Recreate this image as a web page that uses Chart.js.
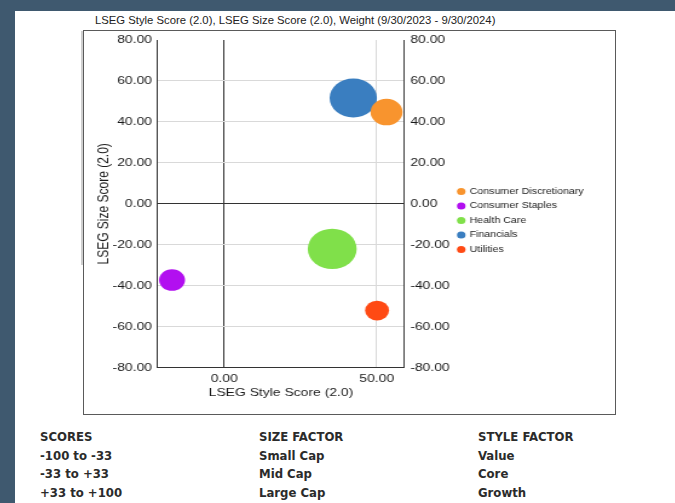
<!DOCTYPE html>
<html lang="en">
<head>
<meta charset="UTF-8">
<title>LSEG Style / Size Score</title>
<style>
  body {
    margin: 0;
    width: 675px;
    height: 503px;
    background: #3f596f;
    position: relative;
    overflow: hidden;
    font-family: Arial, "Liberation Sans", sans-serif;
  }
  #panel { position: absolute; left: 15px; top: 11px; right: 0; bottom: 0; background: #fff; }
  #title { position: absolute; left: 95px; top: 13px; font-size: 11.3px; line-height: 14px; color: #222; white-space: nowrap; }
  #frame { position: absolute; left: 83px; top: 30px; width: 531px; height: 383px; border: 1px solid #5a5a5a; }
  #strip { position: absolute; left: 81px; top: 31px; width: 2px; height: 234px; background: #cfcfcf; }
  #wrap { position: absolute; left: 84px; top: 31px; transform: scaleX(1.21); transform-origin: 0 0; }
  .col {
    position: absolute; top: 428px;
    font-family: "DejaVu Sans Condensed", "DejaVu Sans", sans-serif;
    font-stretch: condensed;
    font-weight: bold; font-size: 13px; line-height: 18.6px; color: #2b2b2b;
  }
</style>
</head>
<body>
<div id="panel"></div>
<div id="title">LSEG Style Score (2.0), LSEG Size Score (2.0), Weight (9/30/2023 - 9/30/2024)</div>
<div id="strip"></div>
<div id="frame"></div>
<div id="wrap"><canvas id="bubbleChart" width="439" height="383"></canvas></div>

<div class="col" style="left:40px">SCORES<br>-100 to -33<br>-33 to +33<br>+33 to +100</div>
<div class="col" style="left:259px">SIZE FACTOR<br>Small Cap<br>Mid Cap<br>Large Cap</div>
<div class="col" style="left:478px">STYLE FACTOR<br>Value<br>Core<br>Growth</div>

<script src="https://cdn.jsdelivr.net/npm/chart.js"></script>
<script>
  const sectors = ['Consumer Discretionary', 'Consumer Staples', 'Health Care', 'Financials', 'Utilities'];
  const styleScores = [53.2, -17.1, 35.4, 42.3, 50.1];
  const sizeScores = [44.8, -37.2, -22.0, 51.7, -52.1];
  const weights = [13.5, 8.9, 31.5, 29.5, 7.6];
  const xTicks = [0, 50];
  const yTicks = [-80, -60, -40, -20, 0, 20, 40, 60, 80];

  const palette = ['#f8942e', '#b20ff0', '#80e04a', '#3a7ec0', '#ff4a14'];

  // bubble area follows weight
  const bubbleRadius = w => 3.6 * Math.sqrt(w);
  const fmt = v => Number(v).toFixed(2);
  const tickFont = { family: 'Arial, "Liberation Sans", sans-serif', size: 11.5 };

  // keep the plot edges where the layout puts them
  const fitY = w => s => { s.width = w; s.paddingTop = 0; s.paddingBottom = 0; };

  const datasets = sectors.map((name, i) => ({
    label: name,
    data: [{ x: styleScores[i], y: sizeScores[i], r: bubbleRadius(weights[i]) }],
    backgroundColor: palette[i],
    borderWidth: 0
  }));

  const ctx = document.getElementById('bubbleChart').getContext('2d');
  new Chart(ctx, {
    type: 'bubble',
    data: { datasets },
    options: {
      responsive: false,
      animation: false,
      layout: { autoPadding: false, padding: { top: 9, left: 0, right: 16, bottom: 13 } },
      plugins: {
        tooltip: { enabled: false },
        legend: {
          position: 'right',
          maxWidth: 300,
          labels: {
            usePointStyle: true,
            pointStyle: 'circle',
            boxWidth: 5,
            boxHeight: 5,
            padding: 5.7,
            color: '#222',
            font: { family: 'Arial, "Liberation Sans", sans-serif', size: 8.8 }
          }
        }
      },
      scales: {
        x: {
          type: 'linear',
          min: -21.8,
          max: 59,
          afterBuildTicks: s => { s.ticks = xTicks.map(v => ({ value: v })); },
          afterFit: s => { s.height = 33.3; s.paddingLeft = 0; s.paddingRight = 0; },
          grid: {
            drawTicks: false,
            color: c => (c.tick && c.tick.value === 0 ? '#333' : '#d9d9d9')
          },
          border: { color: '#333' },
          ticks: { padding: 4, color: '#1a1a1a', font: tickFont, callback: fmt },
          title: {
            display: true,
            text: 'LSEG Style Score (2.0)',
            color: '#1a1a1a',
            padding: { top: 0, bottom: 3 },
            font: { family: 'Arial, "Liberation Sans", sans-serif', size: 11.5, lineHeight: 0.87 }
          }
        },
        y: {
          type: 'linear',
          position: 'left',
          min: -80,
          max: 80,
          afterBuildTicks: s => { s.ticks = yTicks.map(v => ({ value: v })); },
          afterFit: fitY(60.9),
          grid: {
            drawTicks: false,
            color: c => {
              if (!c.tick) return '#d9d9d9';
              if (c.tick.value === 0) return '#333';
              if (c.tick.value === 80) return 'rgba(0,0,0,0)';
              return '#d9d9d9';
            }
          },
          border: { color: '#333' },
          ticks: { padding: 4.7, color: '#1a1a1a', font: tickFont, callback: fmt },
          title: {
            display: true,
            text: 'LSEG Size Score (2.0)',
            color: '#1a1a1a',
            padding: { top: 9.9, bottom: 0 },
            font: { family: 'Arial, "Liberation Sans", sans-serif', size: 12 }
          }
        },
        y2: {
          type: 'linear',
          position: 'right',
          min: -80,
          max: 80,
          afterBuildTicks: s => { s.ticks = yTicks.map(v => ({ value: v })); },
          afterFit: fitY(38.9),
          grid: { display: false, drawTicks: false },
          border: { display: true, color: '#333' },
          ticks: { padding: 5, color: '#1a1a1a', font: tickFont, callback: fmt }
        }
      }
    }
  });
</script>
</body>
</html>
